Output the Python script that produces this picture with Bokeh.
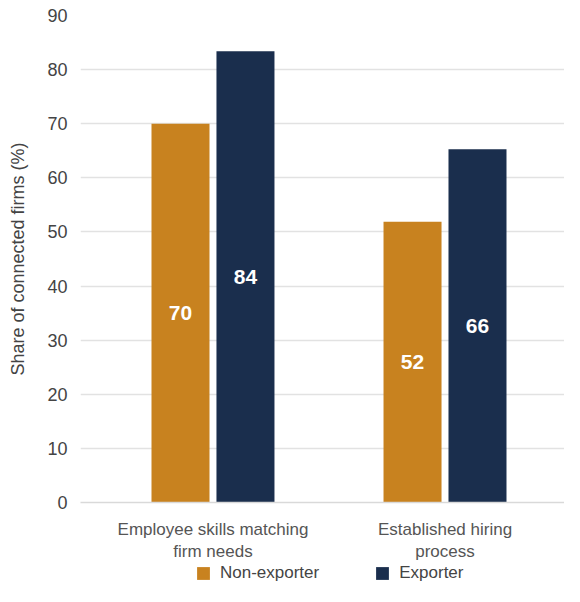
from bokeh.plotting import figure
from bokeh.layouts import column
from bokeh.models import ColumnDataSource, Legend, LegendItem, LabelSet, FixedTicker, Range1d
from bokeh.core.properties import value
from bokeh.embed import file_html
from bokeh.resources import INLINE

categories = ["Employee skills matching\nfirm needs", "Established hiring\nprocess"]
non_exporter = [70.0, 51.9]
exporter = [83.4, 65.3]
non_exporter_labels = ["70", "52"]
exporter_labels = ["84", "66"]
series_names = ["Non-exporter", "Exporter"]
colors = ["#C8821F", "#1A2E4D"]
y_ticks = [0, 10, 20, 30, 40, 50, 60, 70, 80, 90]

FONT = "Liberation Sans"
off = 0.14
w = 0.25

pos = [i + 1 for i in range(len(categories))]
src = ColumnDataSource(dict(
    x_ne=[x - off for x in pos], x_ex=[x + off for x in pos],
    ne=non_exporter, ex=exporter,
    ne_mid=[v / 2 for v in non_exporter], ex_mid=[v / 2 for v in exporter],
    ne_lab=non_exporter_labels, ex_lab=exporter_labels,
))

p = figure(
    x_range=Range1d(0.429, 2.515),
    y_range=Range1d(0, 90),
    width=564, height=564,
    output_backend="svg", toolbar_location=None,
    min_border_left=80, min_border_right=0, min_border_top=15, min_border_bottom=62,
)
p.outline_line_color = None

p.vbar(x="x_ne", top="ne", width=w, source=src, fill_color=colors[0], line_color=None)
p.vbar(x="x_ex", top="ex", width=w, source=src, fill_color=colors[1], line_color=None)

for xcol, ycol, lab in [("x_ne", "ne_mid", "ne_lab"), ("x_ex", "ex_mid", "ex_lab")]:
    p.add_layout(LabelSet(x=xcol, y=ycol, text=lab, source=src,
                          text_align="center", text_baseline="middle",
                          text_color="white", text_font=value(FONT),
                          text_font_size="21px", text_font_style="bold"))

# y axis
yax = p.yaxis[0]
yax.ticker = FixedTicker(ticks=y_ticks)
yax.axis_line_color = None
yax.major_tick_line_color = None
yax.minor_tick_line_color = None
yax.major_label_text_font = FONT
yax.major_label_text_font_size = "18px"
yax.major_label_text_color = "#444444"
yax.major_label_standoff = 7
yax.axis_label = "Share of connected firms (%)"
yax.axis_label_text_font = FONT
yax.axis_label_text_font_size = "18px"
yax.axis_label_text_font_style = "normal"
yax.axis_label_text_color = "#444444"
yax.axis_label_standoff = 16

# x axis
xax = p.xaxis[0]
xax.ticker = FixedTicker(ticks=pos)
xax.major_label_overrides = {x: c for x, c in zip(pos, categories)}
xax.axis_line_color = "#d9d9d9"
xax.axis_line_width = 1.5
xax.major_tick_line_color = None
xax.minor_tick_line_color = None
xax.major_label_text_font = FONT
xax.major_label_text_font_size = "17px"
xax.major_label_text_color = "#555555"
xax.major_label_standoff = 11

p.xgrid.grid_line_color = None
p.ygrid.grid_line_color = "#e2e2e2"
p.ygrid.grid_line_width = 1.5
p.ygrid.ticker = FixedTicker(ticks=y_ticks)

# legend strip (keys only: zero-size glyphs, just for the legend swatches)
lg = figure(width=564, height=22, output_backend="svg", toolbar_location=None,
            x_range=Range1d(0, 1), y_range=Range1d(0, 1),
            x_axis_location=None, y_axis_location=None,
            min_border_left=80, min_border_right=0, min_border_top=0, min_border_bottom=0)
lg.outline_line_color = None
lg.grid.grid_line_color = None
k1 = lg.vbar(x=[0], top=[0], width=0, fill_color=colors[0], line_color=None)
k2 = lg.vbar(x=[0], top=[0], width=0, fill_color=colors[1], line_color=None)
legend = Legend(items=[LegendItem(label=series_names[0], renderers=[k1]),
                       LegendItem(label=series_names[1], renderers=[k2])],
                orientation="horizontal", location=(115, 3),
                glyph_width=16, glyph_height=16, label_standoff=9, spacing=55,
                label_height=16,
                label_text_font=FONT, label_text_font_size="17px", label_text_color="#444444",
                border_line_color=None, background_fill_alpha=0,
                padding=0, margin=0)
lg.add_layout(legend, "center")

layout = column(p, lg, spacing=0)
open("out.html", "w").write(file_html(layout, INLINE))
